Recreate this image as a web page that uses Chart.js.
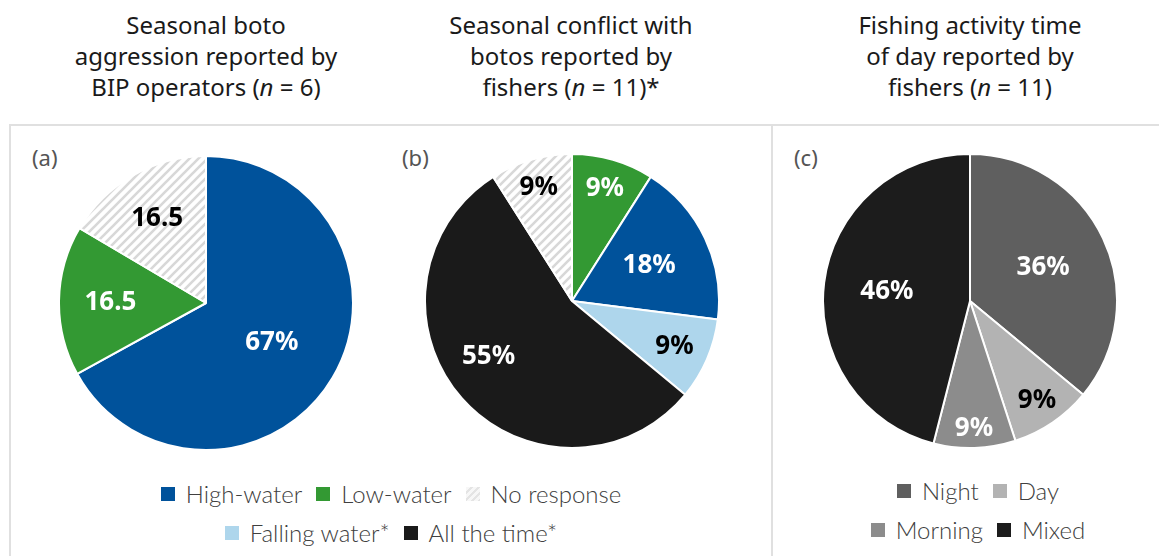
<!DOCTYPE html>
<html>
<head>
<meta charset="utf-8">
<script src="https://cdn.jsdelivr.net/npm/chart.js@4.4.1/dist/chart.umd.min.js"></script>
<style>
  body { margin: 0; width: 1159px; height: 556px; background: #fff; position: relative; overflow: hidden; font-family: "Noto Sans", sans-serif; }
  .title { position: absolute; top: 9px; width: 380px; text-align: center; font-size: 24px; line-height: 31px; color: #1a1a1a; }
  .frame { position: absolute; top: 124px; height: 460px; border-top: 2px solid #e0e0e0; border-left: 2px solid #e0e0e0; }
  .tag { position: absolute; top: 145px; font-size: 22px; line-height: 24px; color: #555; }
  .pie { position: absolute; }
  .legend { position: absolute; font-family: Lato, sans-serif; font-weight: 300; font-size: 24px; color: #404040; }
  .row { display: flex; justify-content: center; gap: 14px; height: 39px; align-items: center; }
  .item { display: flex; align-items: center; }
  .sw { width: 14px; height: 14px; margin-right: 11px; }
</style>
</head>
<body>

<div class="frame" style="left:9px; width:763px;"></div>
<div class="frame" style="left:771px; width:400px;"></div>

<div class="title" style="left:16px;">Seasonal boto<br>aggression reported by<br>BIP operators (<i>n</i> = 6)</div>
<div class="title" style="left:381px;">Seasonal conflict with<br>botos reported by<br>fishers (<i>n</i> = 11)*</div>
<div class="title" style="left:780px;">Fishing activity time<br>of day reported by<br>fishers (<i>n</i> = 11)</div>

<div class="tag" style="left:32px;">(a)</div>
<div class="tag" style="left:402px;">(b)</div>
<div class="tag" style="left:794px;">(c)</div>

<canvas id="pieA" class="pie" width="296" height="296" style="left:58px; top:155px;"></canvas>
<canvas id="pieB" class="pie" width="296" height="296" style="left:424px; top:153px;"></canvas>
<canvas id="pieC" class="pie" width="296" height="296" style="left:822px; top:153px;"></canvas>

<div id="legendAB" class="legend" style="left:10px; width:762px; top:474px;"></div>
<div id="legendC" class="legend" style="left:772px; width:412px; top:471px;"></div>

<script>
// ---- data ----
// (a) boto aggression, BIP operators
const aCategories = ['High-water', 'Low-water', 'No response'];
const aValues = [67, 16.5, 16.5];
const aText = ['67%', '16.5', '16.5'];

// (b) conflict with botos, fishers
const bCategories = ['Low-water', 'High-water', 'Falling water*', 'All the time*', 'No response'];
const bValues = [9, 18, 9, 55, 9];
const bText = ['9%', '18%', '9%', '55%', '9%'];

// (c) fishing time of day, fishers
const cCategories = ['Night', 'Day', 'Morning', 'Mixed'];
const cValues = [36, 9, 9, 46];
const cText = ['36%', '9%', '9%', '46%'];

// legend rows
const legendABRows = [['High-water', 'Low-water', 'No response'], ['Falling water*', 'All the time*']];
const legendCRows = [['Night', 'Day'], ['Morning', 'Mixed']];

// hatched fill for "No response"
function makeHatch() {
  const s = 9;
  const c = document.createElement('canvas');
  c.width = s; c.height = s;
  const g = c.getContext('2d');
  g.fillStyle = '#fff';
  g.fillRect(0, 0, s, s);
  g.strokeStyle = '#d8d8d8';
  g.lineWidth = 2.6;
  g.beginPath();
  g.moveTo(0, s); g.lineTo(s, 0);
  g.moveTo(-2, 2); g.lineTo(2, -2);
  g.moveTo(s - 2, s + 2); g.lineTo(s + 2, s - 2);
  g.stroke();
  return g.createPattern(c, 'repeat');
}
const hatch = makeHatch();

const colorMap = {
  'High-water': '#00529b',
  'Low-water': '#339933',
  'No response': hatch,
  'Falling water*': '#aed6ec',
  'All the time*': '#1a1a1a',
  'Night': '#5f5f5f',
  'Day': '#b3b3b3',
  'Morning': '#8c8c8c',
  'Mixed': '#1c1c1c'
};

// draw the slice labels (no datalabels plugin available offline)
const sliceLabels = {
  id: 'sliceLabels',
  afterDatasetsDraw(chart, args, opts) {
    const ctx = chart.ctx;
    const arcs = chart.getDatasetMeta(0).data;
    ctx.save();
    ctx.font = 'bold 26px "Noto Sans"';
    ctx.textAlign = 'center';
    ctx.textBaseline = 'middle';
    arcs.forEach((arc, i) => {
      const p = arc.getProps(['x', 'y', 'startAngle', 'endAngle', 'outerRadius'], true);
      const mid = (p.startAngle + p.endAngle) / 2 + (opts.turn ? opts.turn[i] : 0);
      const r = p.outerRadius * opts.radius[i];
      ctx.fillStyle = opts.colors[i];
      ctx.fillText(opts.text[i], p.x + Math.cos(mid) * r, p.y + Math.sin(mid) * r + 1);
    });
    ctx.restore();
  }
};

function makePie(id, categories, values, text, labelColors, labelRadius, labelTurn) {
  new Chart(document.getElementById(id), {
    type: 'pie',
    data: {
      labels: categories,
      datasets: [{
        data: values,
        backgroundColor: categories.map(c => colorMap[c]),
        borderColor: '#ffffff',
        borderWidth: 2
      }]
    },
    options: {
      responsive: false,
      animation: false,
      plugins: {
        legend: { display: false },
        tooltip: { enabled: false },
        sliceLabels: { text: text, colors: labelColors, radius: labelRadius, turn: labelTurn }
      }
    },
    plugins: [sliceLabels]
  });
}

makePie('pieA', aCategories, aValues, aText, ['#fff', '#fff', '#000'], [0.52, 0.65, 0.67]);
makePie('pieB', bCategories, bValues, bText, ['#fff', '#fff', '#000', '#fff', '#000'], [0.8, 0.58, 0.76, 0.68, 0.81], [0, 0, 0, 0.14, 0]);
makePie('pieC', cCategories, cValues, cText, ['#fff', '#000', '#fff', '#fff'], [0.55, 0.81, 0.86, 0.57]);

// html legends built from the same categories
function buildLegend(el, rows) {
  rows.forEach(row => {
    const r = document.createElement('div');
    r.className = 'row';
    row.forEach(name => {
      const item = document.createElement('div');
      item.className = 'item';
      const sw = document.createElement('span');
      sw.className = 'sw';
      if (name === 'No response') {
        sw.style.background = 'repeating-linear-gradient(135deg, #f7f7f7 0 3px, #e4e4e4 3px 5px)';
      } else {
        sw.style.background = colorMap[name];
      }
      item.appendChild(sw);
      item.appendChild(document.createTextNode(name));
      r.appendChild(item);
    });
    el.appendChild(r);
  });
}
buildLegend(document.getElementById('legendAB'), legendABRows);
buildLegend(document.getElementById('legendC'), legendCRows);
</script>
</body>
</html>
